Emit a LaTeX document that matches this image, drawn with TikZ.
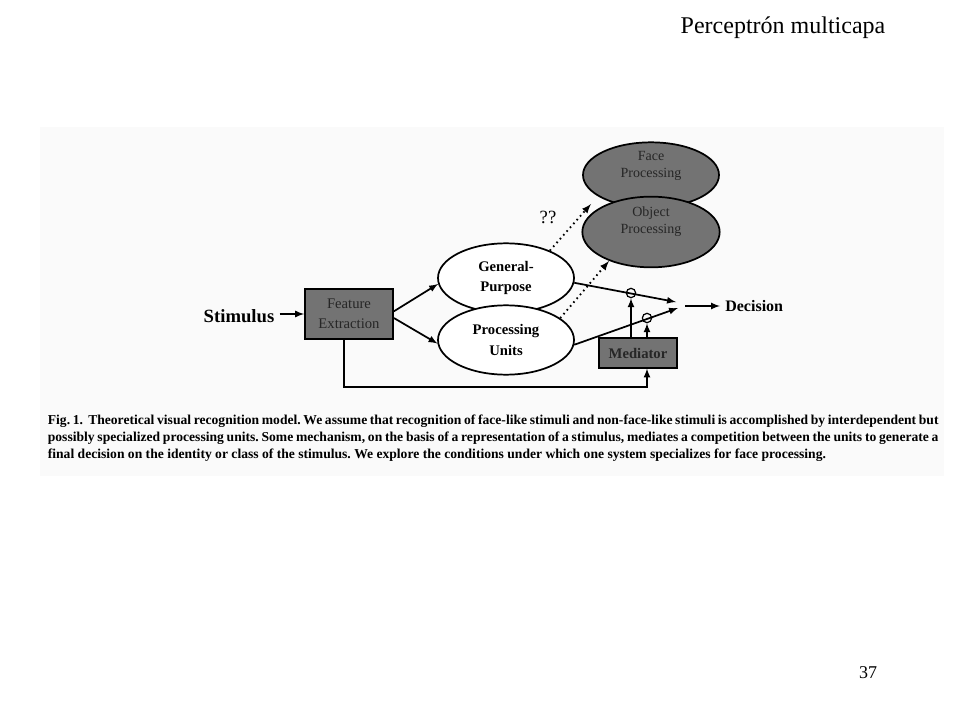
\documentclass[tikz,border=0pt]{standalone}
\usepackage{fontspec}
\setmainfont{Liberation Serif}
\usetikzlibrary{shapes.geometric}

\begin{document}
\frenchspacing
\begin{tikzpicture}[
  x=0.75pt, y=-0.75pt, >=latex, line width=1.3pt,
  lbl/.style={font=\fontsize{12}{14}\selectfont\bfseries},
  box/.style={draw,fill=black!55,text=black!85,align=center,inner sep=0pt,
              font=\fontsize{11}{15}\selectfont},
  unit/.style={ellipse,draw,fill=white,minimum width=102pt,minimum height=52pt,
               inner sep=0pt,align=center,font=\fontsize{11}{15.5}\selectfont\bfseries},
  module/.style={ellipse,draw,fill=black!55,minimum width=102pt,inner sep=0pt},
  modtxt/.style={align=center,text=black!85,font=\fontsize{10.5}{13}\selectfont},
  gate/.style={circle,draw,inner sep=0pt,minimum size=7pt,line width=0.9pt},
  guess/.style={->,line width=1.4pt,dash pattern=on 1.2pt off 2.6pt},
]
\useasboundingbox (0,0) rectangle (960,720);
\fill[black!2] (40,127) rectangle (944,476);

% ----- slide header and footer -----
\node[font=\fontsize{18}{20}\selectfont] (title) at (783,28) {Perceptrón multicapa};
\node[font=\fontsize{13.5}{15}\selectfont] (page) at (868,673) {37};

% ----- model -----
\node[lbl,font=\fontsize{14}{16}\selectfont\bfseries] (stim) at (239,316) {Stimulus};
\node[box,minimum width=66pt,minimum height=37.5pt] (fe) at (349,314) {Feature\\Extraction};
\node[unit] (gp) at (506,278) {General-\\Purpose};
\node[unit] (pu) at (506,340) {Processing\\Units};
\node[module,minimum height=49pt] (face) at (651,175) {};
\node[module,minimum height=53pt,minimum width=103pt] (obj) at (651,232) {};
\node[modtxt] (facetxt) at ([yshift=7pt]face.center) {Face\\Processing};
\node[modtxt] (objtxt) at ([yshift=8pt]obj.center) {Object\\Processing};
\node[font=\fontsize{14}{16}\selectfont] (qq) at (548,217) {??};
\node[box,minimum width=59pt,minimum height=22pt,font=\fontsize{11}{13}\selectfont\bfseries]
  (med) at (638,353) {Mediator};
\node[lbl,anchor=west] (dec) at (720,306) {Decision};
\node[gate] (g1) at (631,293) {};
\node[gate] (g2) at (647,318) {};

\coordinate (j1) at (676,302);
\coordinate (j2) at (678,308);
\coordinate (jo) at (685,306);
\coordinate (fb) at (647,387);
\coordinate (q1) at (591,204);
\coordinate (q2) at (609,261);

\draw[->] (stim.east |- fe.west) -- (fe.west);
\draw[->] ([yshift=2pt]fe.east) -- (gp.185);
\draw[->] ([yshift=-3pt]fe.east) -- (pu.183);
\draw[->] (gp.-4) -- (j1);
\draw[->] (pu.-4) -- (j2);
\draw[->] (jo) -- (dec.west);
\draw[->] (med.north -| g1) -- (g1.south);
\draw[->] (med.north -| g2) -- (g2.south);
\draw[->] ([xshift=-4pt]fe.south) |- (fb) -- (med.south -| fb);
\draw[guess] (gp.32) -- (q1);
\draw[guess] (pu.22) -- (q2);

% ----- caption -----
\node[anchor=north west,text width=668pt,align=justify,inner sep=0pt,
  font=\fontsize{10.2}{12.9}\selectfont\bfseries] (cap) at (47,414)
  {Fig. 1.\ \ Theoretical visual recognition model. We assume that recognition of face-like stimuli and non-face-like stimuli is accomplished by interdependent but\linebreak
   possibly specialized processing units. Some mechanism, on the basis of a representation of a stimulus, mediates a competition between the units to generate a\linebreak
   final decision on the identity or class of the stimulus. We explore the conditions under which one system specializes for face processing.};
\end{tikzpicture}
\end{document}
